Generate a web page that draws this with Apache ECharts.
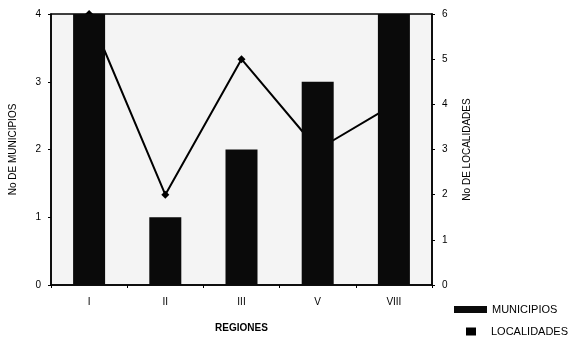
<!DOCTYPE html>
<html>
<head>
<meta charset="utf-8">
<script src="https://cdn.jsdelivr.net/npm/echarts@6/dist/echarts.min.js"></script>
<style>
  html, body { margin: 0; padding: 0; background: #fff; }
  #chart { width: 582px; height: 338px; }
</style>
</head>
<body>
<div id="chart"></div>
<script>
// regiones y valores
var regiones = ['I', 'II', 'III', 'V', 'VIII'];
var municipios = [4, 1, 2, 3, 4];
var localidades = [6, 2, 5, 3, 4];
var ticksMunicipios = [0, 4, 1];
var ticksLocalidades = [0, 6, 1];

var myChart = echarts.init(document.getElementById('chart'));
var font = 'Liberation Sans, Arial, sans-serif';

var option = {
    animation: false,
    backgroundColor: '#fff',
    textStyle: { fontFamily: font, color: '#000' },
    grid: {
        left: 50, right: 150, top: 14, bottom: 52,
        show: true,
        backgroundColor: '#f4f4f4',
        borderColor: '#000',
        borderWidth: 1.5
    },
    legend: [{
        data: ['MUNICIPIOS'],
        left: 449, top: 299,
        itemWidth: 33, itemHeight: 7,
        icon: 'rect',
        textStyle: { fontSize: 11, color: '#000' }
    }, {
        data: ['LOCALIDADES'],
        left: 461, top: 321,
        itemWidth: 10, itemHeight: 8,
        icon: 'rect',
        itemStyle: { color: '#000' },
        textStyle: { fontSize: 11, color: '#000', padding: [0, 0, 0, 10] }
    }],
    xAxis: {
        type: 'category',
        data: regiones,
        name: 'REGIONES',
        nameLocation: 'middle',
        nameGap: 38,
        nameTextStyle: { fontWeight: 'bold', fontSize: 10, color: '#000' },
        axisLine: { lineStyle: { color: '#000', width: 1.5 } },
        axisTick: { show: true, length: 3, lineStyle: { color: '#000' } },
        axisLabel: { fontSize: 10, color: '#000', margin: 12 }
    },
    yAxis: [{
        type: 'value',
        min: ticksMunicipios[0], max: ticksMunicipios[1], interval: ticksMunicipios[2],
        name: 'No DE MUNICIPIOS',
        nameLocation: 'middle',
        nameRotate: 90,
        nameGap: 33,
        nameTextStyle: { fontSize: 10, color: '#000' },
        splitLine: { show: false },
        axisLine: { show: true, lineStyle: { color: '#000', width: 1.5 } },
        axisTick: { show: true, length: 3, lineStyle: { color: '#000' } },
        axisLabel: { fontSize: 10, color: '#000', margin: 10 }
    }, {
        type: 'value',
        min: ticksLocalidades[0], max: ticksLocalidades[1], interval: ticksLocalidades[2],
        name: 'No DE LOCALIDADES',
        nameLocation: 'middle',
        nameRotate: 90,
        nameGap: 30,
        nameTextStyle: { fontSize: 10, color: '#000' },
        splitLine: { show: false },
        axisLine: { show: true, lineStyle: { color: '#000', width: 1.5 } },
        axisTick: { show: true, length: 3, lineStyle: { color: '#000' } },
        axisLabel: { fontSize: 10, color: '#000', margin: 10 }
    }],
    series: [{
        name: 'LOCALIDADES',
        type: 'line',
        yAxisIndex: 1,
        data: localidades,
        z: 1,
        symbol: 'diamond',
        symbolSize: 8,
        lineStyle: { color: '#000', width: 2 },
        itemStyle: { color: '#000' }
    }, {
        name: 'MUNICIPIOS',
        type: 'bar',
        yAxisIndex: 0,
        data: municipios,
        z: 3,
        barWidth: '42%',
        itemStyle: { color: '#0a0a0a' }
    }]
};
myChart.setOption(option);
</script>
</body>
</html>
